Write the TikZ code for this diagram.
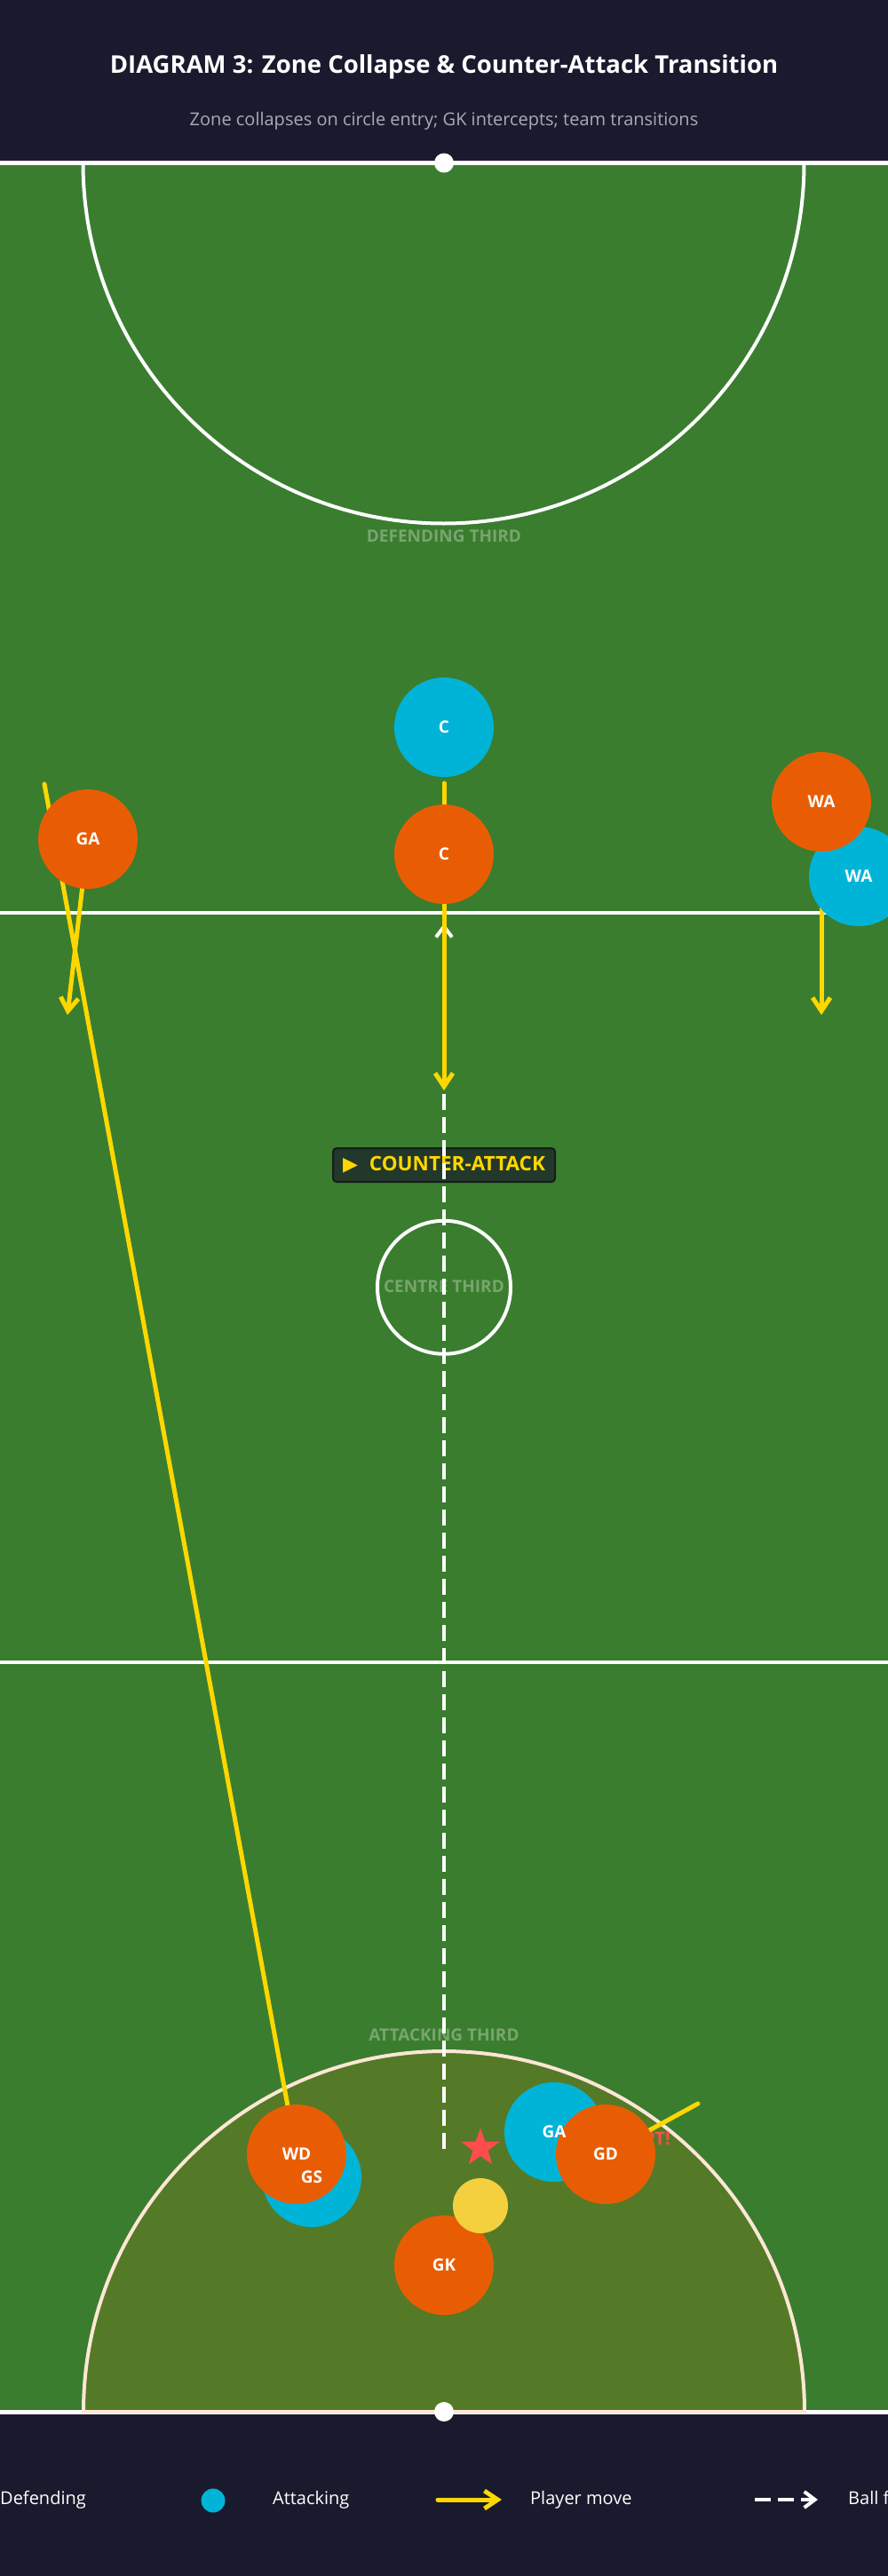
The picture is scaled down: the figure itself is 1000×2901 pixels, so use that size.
\documentclass[tikz,border=0pt]{standalone}
\usepackage{fontspec}
\setmainfont{Open Sans}
\newfontfamily\symfont{DejaVu Sans}
\usetikzlibrary{arrows.meta,shapes.geometric}
\definecolor{hdr}{HTML}{1A1A2E}
\definecolor{court}{HTML}{3A7D2F}
\definecolor{circ}{HTML}{547A28}
\definecolor{defc}{HTML}{E85D04}
\definecolor{attc}{HTML}{00B4D8}
\definecolor{mv}{HTML}{FFD700}
\definecolor{ballc}{HTML}{F4D03F}
\definecolor{starc}{HTML}{FF4D4D}
\definecolor{faded}{HTML}{78A66E}
\definecolor{subc}{HTML}{A9A9B8}
\definecolor{boxc}{HTML}{22382A}
\definecolor{boxe}{HTML}{131F17}
\definecolor{peach}{HTML}{FFE6D5}
\tikzset{
  courtline/.style={draw=white, line width=4pt},
  zonelbl/.style={text=faded, font=\fontsize{19}{22}\selectfont\bfseries, inner sep=0pt},
  attp/.style={circle, fill=attc, minimum size=112pt, inner sep=0pt},
  defp/.style={circle, fill=defc, minimum size=112pt, inner sep=0pt},
  plbl/.style={text=white, font=\fontsize{19}{22}\selectfont\bfseries, inner sep=0pt},
  move/.style={draw=mv, line width=5pt, line cap=round, line join=round,
    -{Straight Barb[length=15pt,width=20pt]}},
  moveline/.style={draw=mv, line width=5pt, line cap=round},
  ballline/.style={draw=white, line width=4pt, dash pattern=on 18pt off 8pt,
    -{Straight Barb[length=12pt,width=18pt]}},
  legtxt/.style={text=white, font=\fontsize{20}{24}\selectfont, anchor=west, inner sep=0pt},
  cabox/.style={fill=boxc, draw=boxe, line width=2pt, rounded corners=4pt,
    minimum width=250pt, minimum height=38pt, inner sep=0pt,
    text=mv, font=\fontsize{22.5}{26}\selectfont\bfseries}
}
\begin{document}
\begin{tikzpicture}[x=1pt,y=-1pt]
\clip (0,0) rectangle (1000,2901);
\fill[hdr] (0,0) rectangle (1000,2901);
\fill[court] (0,183.5) rectangle (1000,2716);

% header texts
\node[text=white, font=\fontsize{27.5}{32}\selectfont\bfseries] (title) at (500,75) {DIAGRAM 3: Zone Collapse \& Counter-Attack Transition};
\node[text=subc, font=\fontsize{20}{24}\selectfont] (subtitle) at (500,136) {Zone collapses on circle entry; GK intercepts; team transitions};

% court markings
\draw[courtline] (0,1027.5) -- (1000,1027.5);
\draw[courtline] (0,1871.8) -- (1000,1871.8);
\draw[courtline] (93.5,183.5) arc[start angle=180, end angle=0, radius=406];
\draw[white, line width=5pt] (0,183.5) -- (1000,183.5);
\draw[white, line width=5pt] (0,2716) -- (1000,2716);
\filldraw[fill=circ, draw=peach, line width=4pt] (94,2716) arc[start angle=180, end angle=360, radius=406] -- cycle;
\draw[courtline] (500,1449.75) circle[radius=75pt];
\fill[white] (500,183.5) circle[radius=11pt];
\fill[white] (500,2716) circle[radius=11pt];

% zone labels
\node[zonelbl] (zdef) at (500,604) {DEFENDING THIRD};
\node[zonelbl] (zcen) at (500,1449) {CENTRE THIRD};
\node[zonelbl] (zatt) at (500,2292) {ATTACKING THIRD};

% counter attack label
\node[cabox] (ca) at (500,1312) {{\symfont\fontsize{22}{26}\selectfont ▶}\hspace{13pt}COUNTER-ATTACK};

% positions
\coordinate (pCa) at (500,819);
\coordinate (pCd) at (500,962);
\coordinate (pGAd) at (99,945);
\coordinate (pWAd) at (925,903);
\coordinate (pWAa) at (967,987);
\coordinate (pGSa) at (351,2452);
\coordinate (pWDd) at (334,2426);
\coordinate (pGAa) at (624,2401);
\coordinate (pGDd) at (682,2426);
\coordinate (pGKd) at (500,2551);

% ball flight
\coordinate (bStart) at (500,2420);
\coordinate (bEnd) at (500,1040);
\draw[ballline] (bStart) -- (bEnd);

% player movements
\coordinate (cStart) at (500,882);
\coordinate (cEnd) at (500,1228);
\draw[move] (cStart) -- (cEnd);
\coordinate (gaEnd) at (76,1143);
\draw[move] (pGAd) -- (gaEnd);
\coordinate (waEnd) at (925,1143);
\draw[move] (pWAd) -- (waEnd);
\coordinate (wdStart) at (50,883);
\draw[moveline] (wdStart) -- (pWDd);
\coordinate (gdStart) at (786,2369);
\draw[moveline] (gdStart) -- (pGDd);

% intercept text
\node[text=starc, font=\fontsize{20}{24}\selectfont\bfseries, anchor=east, inner sep=0pt] (intc) at (755,2408) {INTERCEPT!};

% star
\node[star, star points=5, star point ratio=2.5, fill=starc, minimum size=45pt, inner sep=0pt] (st) at (541,2419) {};

% attacking players
\node[attp] (Ca) at (pCa) {};
\node[attp] (WAa) at (pWAa) {};
\node[attp] (GSa) at (pGSa) {};
\node[attp] (GAa) at (pGAa) {};

% defending players
\node[defp] (Cd) at (pCd) {};
\node[defp] (GAd) at (pGAd) {};
\node[defp] (WAd) at (pWAd) {};
\node[defp] (WDd) at (pWDd) {};
\node[defp] (GDd) at (pGDd) {};
\node[defp] (GKd) at (pGKd) {};

% ball
\node[circle, fill=ballc, minimum size=62pt, inner sep=0pt] (ball) at (541,2484) {};

% labels
\node[plbl] at (Ca) {C};
\node[plbl] at (WAa) {WA};
\node[plbl] at (GSa) {GS};
\node[plbl] at (GAa) {GA};
\node[plbl] at (Cd) {C};
\node[plbl] at (GAd) {GA};
\node[plbl] at (WAd) {WA};
\node[plbl] at (WDd) {WD};
\node[plbl] at (GDd) {GD};
\node[plbl] at (GKd) {GK};

% legend
\node[legtxt] (l1) at (0,2815) {Defending};
\node[circle, fill=attc, minimum size=27pt, inner sep=0pt] (l2c) at (240,2816) {};
\node[legtxt] (l2) at (307,2815) {Attacking};
\coordinate (l3a) at (493,2815);
\coordinate (l3b) at (565,2815);
\draw[move] (l3a) -- (l3b);
\node[legtxt] (l3) at (597,2815) {Player move};
\coordinate (l4a) at (850,2815);
\coordinate (l4b) at (921,2815);
\draw[ballline] (l4a) -- (l4b);
\node[legtxt] (l4) at (955,2815) {Ball flight};
\end{tikzpicture}
\end{document}
